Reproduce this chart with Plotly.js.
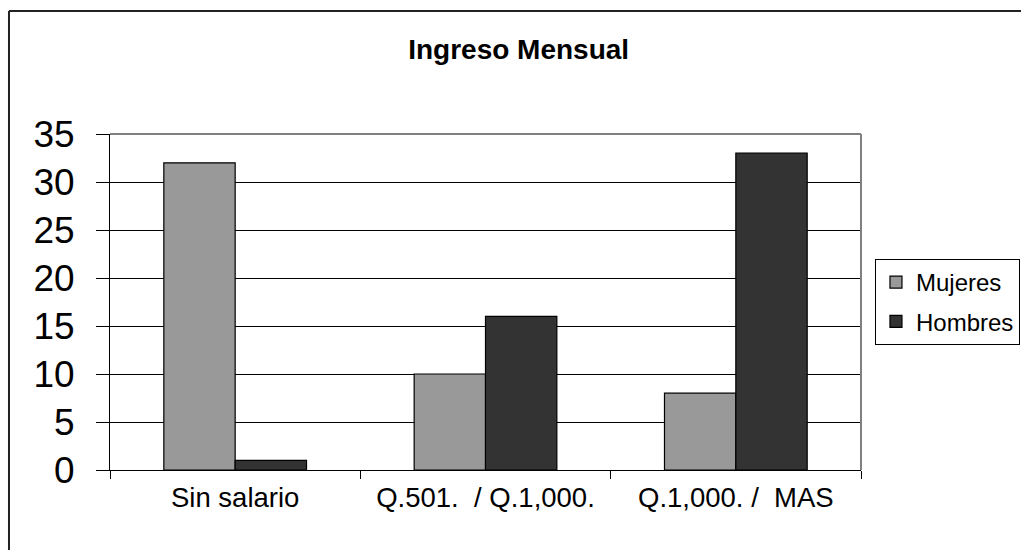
<!DOCTYPE html>
<html>
<head>
<meta charset="utf-8">
<script src="https://cdn.plot.ly/plotly-3.0.1.min.js"></script>
<style>html,body{margin:0;padding:0;background:#fff;}#chart{width:1021px;height:550px;}</style>
</head>
<body>
<div id="chart"></div>
<script>
const categories = ["Sin salario", "Q.501.  / Q.1,000.", "Q.1,000. /  MAS"];
const mujeres = [32, 10, 8];
const hombres = [1, 16, 33];
const seriesNames = ["Mujeres", "Hombres"];
const yTicks = [0, 5, 10, 15, 20, 25, 30, 35];

const FONT = "Liberation Sans, Arial, sans-serif";

const traces = [
  {type: "bar", name: seriesNames[0], x: categories, y: mujeres, legendgroup: "a",
   marker: {color: "#999999", line: {color: "#000000", width: 1.2}}},
  {type: "bar", name: seriesNames[1], x: categories, y: hombres, legendgroup: "b",
   marker: {color: "#333333", line: {color: "#000000", width: 1.2}}}
];

const layout = {
  width: 1021, height: 550,
  margin: {l: 110, r: 160, t: 134, b: 80, pad: 0, autoexpand: false},
  paper_bgcolor: "#ffffff", plot_bgcolor: "#ffffff",
  font: {family: FONT, color: "#000000"},
  title: {text: "Ingreso Mensual", font: {family: FONT, size: 28, color: "#000", weight: "bold"},
          x: 0.508, xanchor: "center", y: 0.91, yanchor: "middle", xref: "container", yref: "container"},
  barmode: "group", bargap: 0.43, bargroupgap: 0,
  showlegend: true,
  legend: {x: 1.0186, xanchor: "left", y: 0.5, yanchor: "middle",
           bordercolor: "#000", borderwidth: 1, bgcolor: "#fff",
           font: {family: FONT, size: 24, color: "#000"}, tracegroupgap: 5, itemwidth: 30},
  xaxis: {type: "category", showline: true, linecolor: "#000", linewidth: 1,
          ticks: "outside", tickson: "boundaries", ticklen: 8, tickcolor: "#000",
          tickfont: {family: FONT, size: 27.5, color: "#000"}, ticklabelstandoff: 3,
          showgrid: false, fixedrange: true},
  yaxis: {range: [0, 35], tickvals: yTicks, ticktext: yTicks.map(String),
          showline: true, linecolor: "#000", linewidth: 1,
          ticks: "outside", ticklen: 13, tickcolor: "#000",
          showgrid: true, gridcolor: "#000", gridwidth: 1, zeroline: false,
          tickfont: {family: FONT, size: 37, color: "#000"}, ticklabelstandoff: 14, fixedrange: true},
  shapes: [
    {type: "line", xref: "paper", yref: "paper", x0: 0, x1: 1, y0: 1, y1: 1, line: {color: "#808080", width: 2}, layer: "above"},
    {type: "line", xref: "paper", yref: "paper", x0: 1, x1: 1, y0: 0, y1: 1, line: {color: "#808080", width: 2}, layer: "above"},
    {type: "line", xref: "paper", yref: "paper", x0: -0.1345, x1: 1.5, y0: 1.366, y1: 1.366, line: {color: "#222", width: 2}},
    {type: "line", xref: "paper", yref: "paper", x0: -0.1345, x1: -0.1345, y0: 1.366, y1: -0.5, line: {color: "#222", width: 2}}
  ]
};

Plotly.newPlot("chart", traces, layout, {displayModeBar: false, staticPlot: true});
</script>
</body>
</html>
